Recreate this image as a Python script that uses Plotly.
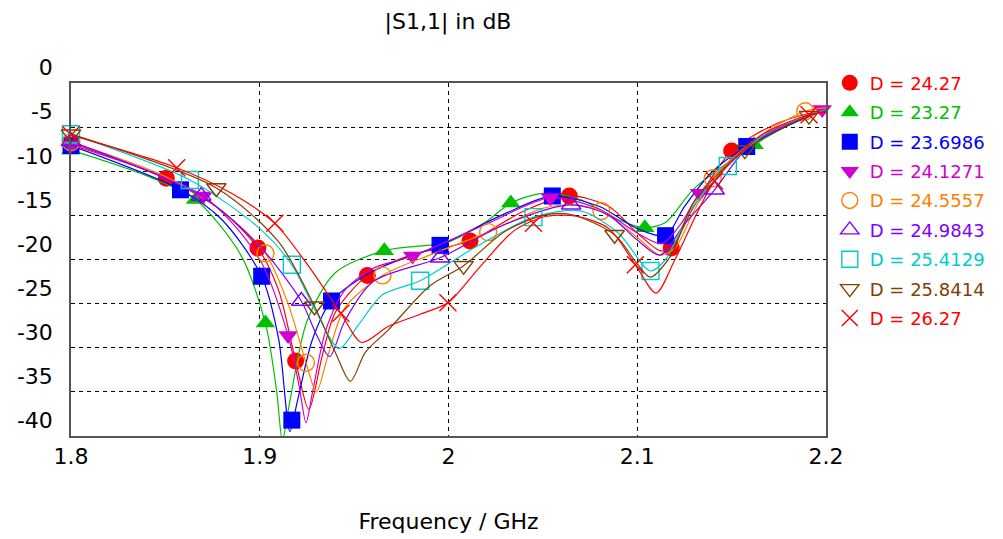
import plotly.graph_objects as go

# ---------------- data ----------------
names = ["D = 24.27", "D = 23.27", "D = 23.6986", "D = 24.1271", "D = 24.5557",
         "D = 24.9843", "D = 25.4129", "D = 25.8414", "D = 26.27"]

# curve samples (frequency GHz, |S11| dB)
f_2427 = [1.80, 1.8505, 1.88, 1.899, 1.91, 1.919, 1.926, 1.933, 1.94, 1.957, 1.98, 2.0114, 2.04, 2.064, 2.085, 2.10, 2.112, 2.118, 2.13, 2.150, 2.175, 2.20]
s_2427 = [-6.8, -10.8, -14.5, -18.7, -23.5, -31.5, -37.0, -31.0, -26.0, -21.8, -19.5, -17.9, -14.5, -12.8, -14.0, -17.0, -19.0, -18.7, -14.0, -7.7, -4.5, -3.0]

f_2327 = [1.80, 1.84, 1.866, 1.89, 1.903, 1.909, 1.912, 1.916, 1.925, 1.94, 1.966, 2.00, 2.02, 2.033, 2.05, 2.07, 2.09, 2.104, 2.115, 2.13, 2.162, 2.18, 2.20]
s_2327 = [-7.6, -10.5, -13.2, -19.5, -27.2, -35.0, -40.5, -36.0, -27.0, -21.5, -19.0, -18.0, -15.7, -13.6, -12.5, -13.2, -15.5, -16.4, -15.8, -12.0, -7.0, -4.8, -3.0]

f_236986 = [1.80, 1.858, 1.88, 1.901, 1.91, 1.916, 1.92, 1.928, 1.938, 1.96, 1.9955, 2.03, 2.055, 2.08, 2.10, 2.115, 2.125, 2.14, 2.158, 2.18, 2.20]
s_236986 = [-7.1, -12.1, -15.5, -21.9, -29.0, -39.5, -36.0, -29.0, -24.7, -21.3, -18.4, -14.8, -12.8, -14.0, -16.5, -17.3, -14.0, -10.0, -7.2, -4.8, -3.0]

f_241271 = [1.80, 1.870, 1.90, 1.915, 1.921, 1.9245, 1.928, 1.935, 1.945, 1.96, 1.981, 2.02, 2.054, 2.08, 2.10, 2.113, 2.123, 2.133, 2.16, 2.198, 2.20]
s_241271 = [-7.0, -12.8, -20.0, -28.6, -34.5, -38.5, -35.0, -28.0, -23.5, -21.0, -19.6, -16.0, -13.0, -14.3, -17.0, -18.2, -16.0, -12.5, -6.8, -3.0, -2.9]

f_245557 = [1.80, 1.85, 1.88, 1.903, 1.915, 1.9245, 1.930, 1.936, 1.945, 1.965, 1.99, 2.021, 2.05, 2.065, 2.081, 2.10, 2.112, 2.12, 2.13, 2.140, 2.165, 2.189, 2.20]
s_245557 = [-6.7, -10.6, -14.5, -19.3, -25.0, -31.7, -35.0, -31.0, -25.5, -21.8, -19.5, -16.9, -14.2, -13.8, -14.5, -17.5, -19.5, -18.7, -14.5, -10.8, -6.0, -3.2, -2.8]

f_249843 = [1.80, 1.869, 1.90, 1.922, 1.930, 1.937, 1.945, 1.96, 1.9955, 2.03, 2.065, 2.085, 2.10, 2.112, 2.125, 2.141, 2.16, 2.20]
s_249843 = [-6.6, -12.8, -18.5, -24.7, -28.5, -31.0, -27.0, -22.5, -19.8, -16.0, -13.8, -15.0, -17.8, -19.5, -16.0, -12.1, -7.0, -3.0]

f_254129 = [1.80, 1.863, 1.90, 1.917, 1.93, 1.942, 1.952, 1.965, 1.985, 2.015, 2.045, 2.07, 2.09, 2.107, 2.115, 2.128, 2.148, 2.17, 2.20]
s_254129 = [-5.8, -11.0, -16.5, -20.6, -26.0, -30.1, -27.5, -24.0, -22.4, -18.5, -15.2, -14.5, -17.0, -21.3, -20.0, -14.5, -9.4, -5.5, -3.0]

f_258414 = [1.80, 1.877, 1.91, 1.929, 1.940, 1.948, 1.956, 1.968, 1.99, 2.008, 2.03, 2.05, 2.065, 2.088, 2.10, 2.107, 2.118, 2.13, 2.157, 2.191, 2.20]
s_258414 = [-5.8, -11.9, -18.0, -25.3, -30.5, -33.8, -30.5, -28.0, -23.0, -20.7, -16.8, -15.0, -14.9, -17.2, -20.5, -22.0, -19.5, -13.5, -7.6, -3.7, -3.2]

f_2627 = [1.80, 1.856, 1.885, 1.908, 1.925, 1.943, 1.954, 1.968, 1.985, 1.9997, 2.016, 2.035, 2.052, 2.068, 2.085, 2.099, 2.110, 2.12, 2.141, 2.165, 2.191, 2.20]
s_2627 = [-5.9, -9.6, -12.5, -15.9, -20.5, -26.1, -29.4, -27.6, -26.2, -24.9, -21.0, -16.7, -15.1, -15.1, -16.5, -20.6, -23.8, -20.0, -11.1, -6.0, -3.6, -3.3]

# marker positions
mf_2427 = [1.8505, 1.899, 1.919, 1.957, 2.0114, 2.064, 2.118, 2.150]
ms_2427 = [-10.8, -18.7, -31.5, -21.8, -17.9, -12.8, -18.7, -7.7]
mf_2327 = [1.80, 1.866, 1.903, 1.966, 2.033, 2.104, 2.162]
ms_2327 = [-7.6, -13.2, -27.2, -19.0, -13.6, -16.4, -7.0]
mf_236986 = [1.80, 1.858, 1.901, 1.917, 1.938, 1.9955, 2.055, 2.115, 2.158]
ms_236986 = [-7.1, -12.1, -21.9, -38.2, -24.7, -18.4, -12.8, -17.3, -7.2]
mf_241271 = [1.80, 1.870, 1.915, 1.981, 2.054, 2.133, 2.198]
ms_241271 = [-7.0, -12.8, -28.6, -19.6, -13.0, -12.5, -3.0]
mf_245557 = [1.80, 1.903, 1.9245, 1.965, 2.021, 2.081, 2.140, 2.189]
ms_245557 = [-6.7, -19.3, -31.7, -21.8, -16.9, -14.5, -10.8, -3.2]
mf_249843 = [1.80, 1.869, 1.922, 1.9955, 2.065, 2.141]
ms_249843 = [-6.6, -12.8, -24.7, -19.8, -13.8, -12.1]
mf_254129 = [1.80, 1.863, 1.917, 1.985, 2.045, 2.107, 2.148]
ms_254129 = [-5.8, -11.0, -20.6, -22.4, -15.2, -21.3, -9.4]
mf_258414 = [1.80, 1.877, 1.929, 2.008, 2.088, 2.157, 2.191]
ms_258414 = [-5.8, -11.9, -25.3, -20.7, -17.2, -7.6, -3.7]
mf_2627 = [1.80, 1.856, 1.908, 1.943, 1.9997, 2.045, 2.099, 2.141, 2.191]
ms_2627 = [-5.9, -9.6, -15.9, -26.1, -24.9, -15.9, -20.6, -11.1, -3.6]

x_ticks = [1.8, 1.9, 2.0, 2.1, 2.2]
x_ticklabels = ["1.8", "1.9", "2", "2.1", "2.2"]
y_ticks = [0, -5, -10, -15, -20, -25, -30, -35, -40]
y_ticklabels = ["0", "-5", "-10", "-15", "-20", "-25", "-30", "-35", "-40"]

# ---------------- styling ----------------
curves = [(f_2427, s_2427), (f_2327, s_2327), (f_236986, s_236986), (f_241271, s_241271),
          (f_245557, s_245557), (f_249843, s_249843), (f_254129, s_254129),
          (f_258414, s_258414), (f_2627, s_2627)]
marks = [(mf_2427, ms_2427), (mf_2327, ms_2327), (mf_236986, ms_236986), (mf_241271, ms_241271),
         (mf_245557, ms_245557), (mf_249843, ms_249843), (mf_254129, ms_254129),
         (mf_258414, ms_258414), (mf_2627, ms_2627)]
colors = ["#FF0000", "#00C000", "#0000FF", "#D000D0", "#FF8000",
          "#8000FF", "#00CCCC", "#804000", "#FF0000"]
symbols = ["circle", "triangle-up", "square", "triangle-down", "circle-open",
           "triangle-up-open", "square-open", "triangle-down-open", "x-thin-open"]

FONT = "DejaVu Sans"
fig = go.Figure()
for i in range(len(names)):
    fx, fy = curves[i]
    mx, my = marks[i]
    c = colors[i]
    fig.add_trace(go.Scatter(x=fx, y=fy, mode="lines", line=dict(color=c, width=1.2, shape="spline", smoothing=0.8),
                             showlegend=False, hoverinfo="skip", legendgroup=f"g{i}"))
    opened = symbols[i].endswith("open")
    fig.add_trace(go.Scatter(
        x=mx, y=my, mode="markers", cliponaxis=False, legendgroup=f"g{i}",
        name=f'<span style="color:{c}">{names[i]}</span>',
        marker=dict(symbol=symbols[i], size=17, color=c,
                    line=dict(color=c, width=1.4 if opened else 0)),
    ))

grid = dict(showgrid=True, gridcolor="#000000", gridwidth=1, griddash="4px,4px",
            showline=True, linecolor="#555555", linewidth=1.5, mirror=True,
            zeroline=False, ticks="", tickfont=dict(family=FONT, size=22, color="#000000"))

fig.update_layout(
    width=1003, height=539,
    paper_bgcolor="white", plot_bgcolor="white",
    margin=dict(l=63, r=185, t=75, b=111, autoexpand=False),
    title=dict(text="|S1,1| in dB", x=0.4387, xanchor="center", y=0.976, yanchor="middle",
               font=dict(family=FONT, size=22, color="#000000")),
    xaxis=dict(range=[1.8, 2.2], tickvals=x_ticks, ticktext=x_ticklabels,
               title=dict(text="Frequency / GHz", standoff=45, font=dict(family=FONT, size=22, color="#000000")),
               automargin=False, **grid),
    yaxis=dict(range=[-40, 0], tickvals=y_ticks, ticktext=y_ticklabels, ticklabelposition="outside top",
               ticklabelstandoff=12, automargin=False, **grid),
    legend=dict(x=1.005, xanchor="left", y=1.052, yanchor="top", bgcolor="rgba(0,0,0,0)",
                font=dict(family=FONT, size=18), tracegroupgap=3, itemsizing="trace", maxheight=520),
    showlegend=True,
)

fig.write_html("out.html")
